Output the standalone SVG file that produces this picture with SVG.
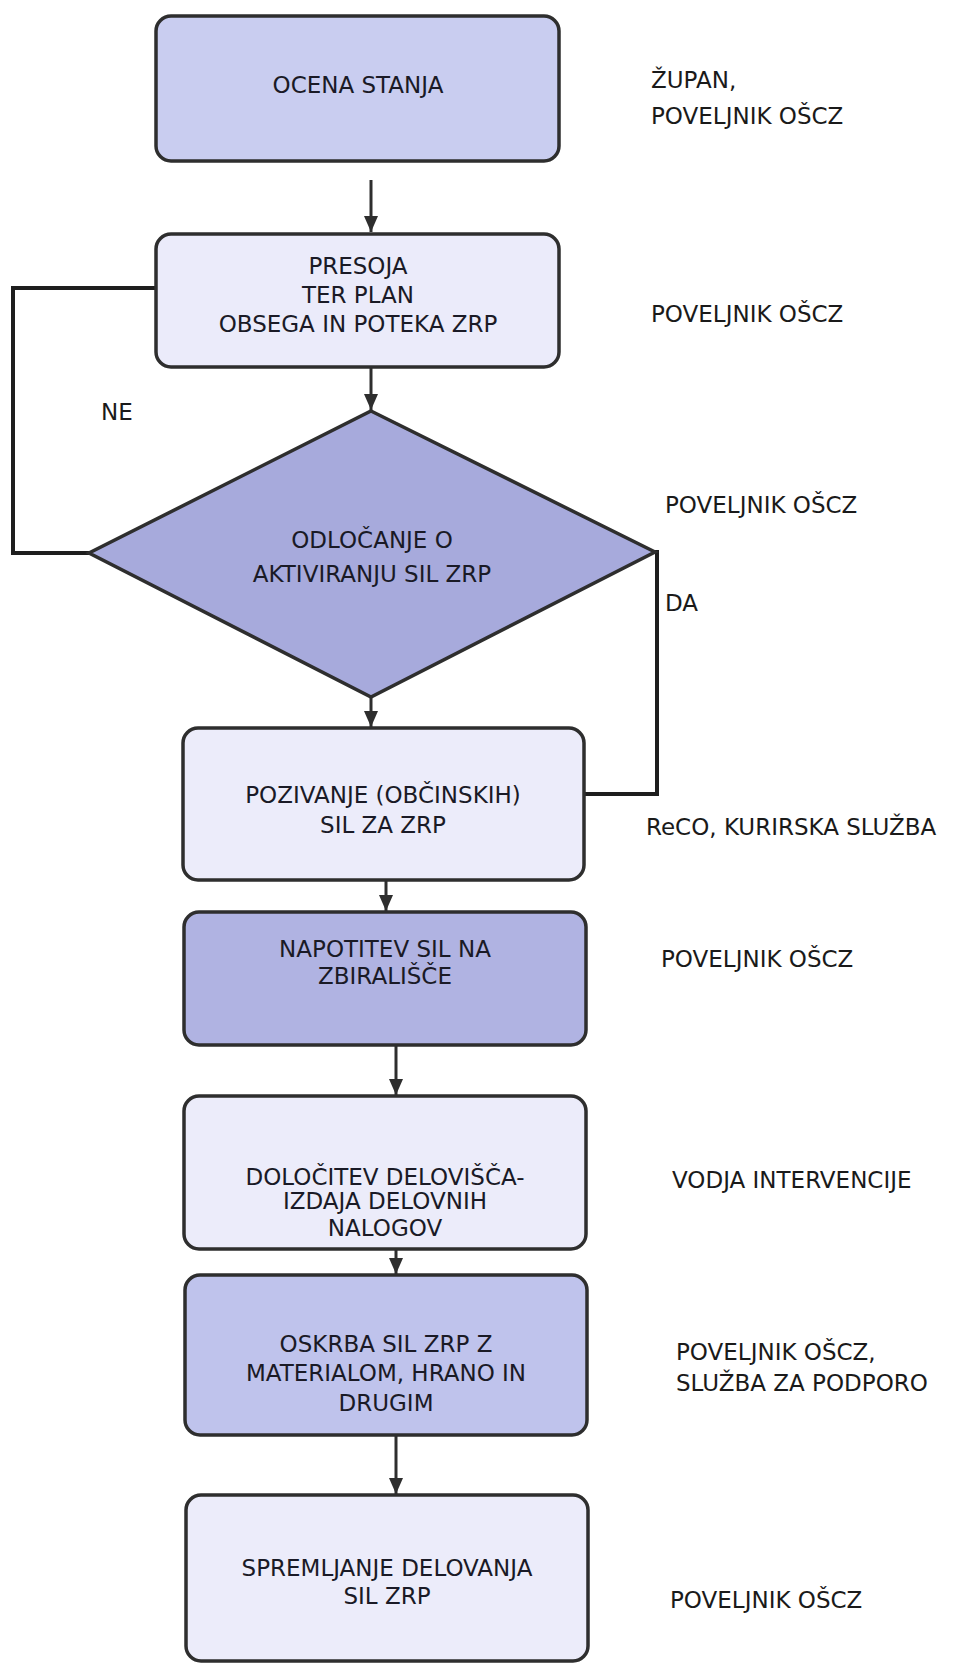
<svg xmlns="http://www.w3.org/2000/svg" width="965" height="1666" viewBox="0 0 965 1666">
<defs>
<style>
.box{stroke:#2e2e2e;stroke-width:3.5}
.t{font-family:"DejaVu Sans",Verdana,sans-serif;font-size:23px;fill:#1a1a26;text-anchor:middle}
.l{font-family:"DejaVu Sans",Verdana,sans-serif;font-size:23px;fill:#1a1a1a}
.c{fill:none;stroke:#2e2e2e;stroke-width:3}
.loop{fill:none;stroke:#1e1e1e;stroke-width:4}
.pale{fill:#ececfa}
.mid{fill:#c9cdf0}
.dark{fill:#b0b3e2}
</style>
<marker id="ah" markerWidth="16" markerHeight="16" refX="16" refY="8" orient="auto" markerUnits="userSpaceOnUse" viewBox="0 0 16 16">
<path d="M0,1 L16,8 L0,15 Z" fill="#2e2e2e"/>
</marker>
</defs>
<rect width="965" height="1666" fill="#ffffff"/>

<g id="connectors">
<line class="c" x1="371" y1="180" x2="371" y2="232" marker-end="url(#ah)"/>
<line class="c" x1="371" y1="367" x2="371" y2="410" marker-end="url(#ah)"/>
<line class="c" x1="371" y1="697" x2="371" y2="727" marker-end="url(#ah)"/>
<line class="c" x1="386" y1="880" x2="386" y2="911" marker-end="url(#ah)"/>
<line class="c" x1="396" y1="1045" x2="396" y2="1095" marker-end="url(#ah)"/>
<line class="c" x1="396" y1="1249" x2="396" y2="1274" marker-end="url(#ah)"/>
<line class="c" x1="396" y1="1435" x2="396" y2="1494" marker-end="url(#ah)"/>
<polyline class="loop" points="156,288 13,288 13,553 89,553"/>
<polyline class="loop" points="655,552 657,552 657,794 584,794"/>
<text class="l" x="101" y="420">NE</text>
<text class="l" x="665" y="611">DA</text>
</g>

<g id="n1">
<rect class="box mid" x="156" y="16" width="403" height="145" rx="15"/>
<text class="t" x="358" y="93">OCENA STANJA</text>
</g>
<g id="n2">
<rect class="box" fill="#ebebfa" x="156" y="234" width="403" height="133" rx="15"/>
<text class="t" x="358" y="274">PRESOJA</text>
<text class="t" x="358" y="303">TER PLAN</text>
<text class="t" x="358" y="332">OBSEGA IN POTEKA ZRP</text>
</g>
<g id="n3">
<polygon class="box" fill="#a7aadc" points="371,411 655,552 371,697 89,553"/>
<text class="t" x="372" y="548">ODLOČANJE O</text>
<text class="t" x="372" y="582">AKTIVIRANJU SIL ZRP</text>
</g>
<g id="n4">
<rect class="box pale" x="183" y="728" width="401" height="152" rx="15"/>
<text class="t" x="383" y="803">POZIVANJE (OBČINSKIH)</text>
<text class="t" x="383" y="833">SIL ZA ZRP</text>
</g>
<g id="n5">
<rect class="box dark" x="184" y="912" width="402" height="133" rx="15"/>
<text class="t" x="385" y="957">NAPOTITEV SIL NA</text>
<text class="t" x="385" y="984">ZBIRALIŠČE</text>
</g>
<g id="n6">
<rect class="box pale" x="184" y="1096" width="402" height="153" rx="15"/>
<text class="t" x="385" y="1185">DOLOČITEV DELOVIŠČA-</text>
<text class="t" x="385" y="1209">IZDAJA DELOVNIH</text>
<text class="t" x="385" y="1236">NALOGOV</text>
</g>
<g id="n7">
<rect class="box" fill="#bfc3ec" x="185" y="1275" width="402" height="160" rx="15"/>
<text class="t" x="386" y="1352">OSKRBA SIL ZRP Z</text>
<text class="t" x="386" y="1381">MATERIALOM, HRANO IN</text>
<text class="t" x="386" y="1411">DRUGIM</text>
</g>
<g id="n8">
<rect class="box pale" x="186" y="1495" width="402" height="166" rx="15"/>
<text class="t" x="387" y="1576">SPREMLJANJE DELOVANJA</text>
<text class="t" x="387" y="1604">SIL ZRP</text>
</g>

<g id="labels">
<text class="l" x="651" y="88">ŽUPAN,</text>
<text class="l" x="651" y="124">POVELJNIK OŠCZ</text>
<text class="l" x="651" y="322">POVELJNIK OŠCZ</text>
<text class="l" x="665" y="513">POVELJNIK OŠCZ</text>
<text class="l" x="646" y="835">ReCO, KURIRSKA SLUŽBA</text>
<text class="l" x="661" y="967">POVELJNIK OŠCZ</text>
<text class="l" x="672" y="1188">VODJA INTERVENCIJE</text>
<text class="l" x="676" y="1360">POVELJNIK OŠCZ,</text>
<text class="l" x="676" y="1391">SLUŽBA ZA PODPORO</text>
<text class="l" x="670" y="1608">POVELJNIK OŠCZ</text>
</g>
</svg>
